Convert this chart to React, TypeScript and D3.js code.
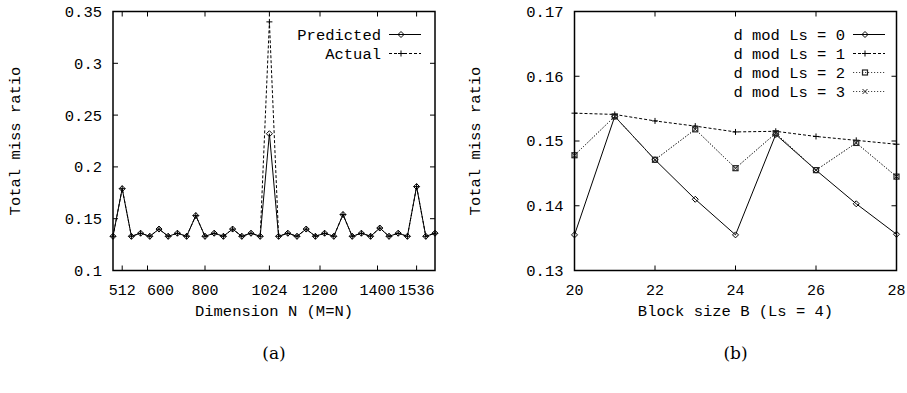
import * as d3 from "d3";

// (a) Dimension N sweep, N = 480..1600 step 32
const dimN = [
  480, 512, 544, 576, 608, 640, 672, 704, 736, 768, 800, 832, 864, 896, 928, 960, 992, 1024,
  1056, 1088, 1120, 1152, 1184, 1216, 1248, 1280, 1312, 1344, 1376, 1408, 1440, 1472, 1504,
  1536, 1568, 1600,
];
const predicted = [
  0.133, 0.179, 0.133, 0.136, 0.133, 0.14, 0.133, 0.136, 0.133, 0.153, 0.133, 0.136, 0.133,
  0.14, 0.133, 0.136, 0.133, 0.232, 0.133, 0.136, 0.133, 0.14, 0.133, 0.136, 0.133, 0.154,
  0.133, 0.136, 0.133, 0.141, 0.133, 0.136, 0.133, 0.181, 0.133, 0.136,
];
const actual = [
  0.133, 0.179, 0.133, 0.136, 0.133, 0.14, 0.133, 0.136, 0.133, 0.153, 0.133, 0.136, 0.133,
  0.14, 0.133, 0.136, 0.133, 0.34, 0.133, 0.136, 0.133, 0.14, 0.133, 0.136, 0.133, 0.154,
  0.133, 0.136, 0.133, 0.141, 0.133, 0.136, 0.133, 0.181, 0.133, 0.136,
];
const xTicksA = [512, 600, 800, 1024, 1200, 1400, 1536];
const yTicksA = [0.1, 0.15, 0.2, 0.25, 0.3, 0.35];

// (b) Block size sweep
const blockB = [20, 21, 22, 23, 24, 25, 26, 27, 28];
const mod0 = [0.1355, 0.1538, 0.1471, 0.141, 0.1355, 0.151, 0.1455, 0.1403, 0.1356];
const mod1 = [0.1543, 0.1541, 0.1531, 0.1523, 0.1514, 0.1515, 0.1507, 0.1501, 0.1495];
const mod2 = [0.1478, 0.1538, 0.1471, 0.1518, 0.1458, 0.1512, 0.1455, 0.1497, 0.1445];
const mod3 = [0.1478, 0.1538, 0.1471, 0.1518, 0.1458, 0.1512, 0.1455, 0.1497, 0.1445];
const xTicksB = [20, 22, 24, 26, 28];
const yTicksB = [0.13, 0.14, 0.15, 0.16, 0.17];

const FONT = "'Liberation Mono', 'Courier New', monospace";
const FS = 15.5;
const TICK = 5;

type MarkerKind = "diamond" | "plus" | "box" | "cross";

function Marker({ kind, x, y }: { kind: MarkerKind; x: number; y: number }) {
  if (kind === "diamond")
    return (
      <path
        d={`M${x},${y - 3}L${x + 3},${y}L${x},${y + 3}L${x - 3},${y}Z`}
        fill="none"
        stroke="#000"
        strokeWidth={1}
      />
    );
  if (kind === "plus")
    return (
      <path d={`M${x - 3},${y}H${x + 3}M${x},${y - 3}V${y + 3}`} stroke="#000" strokeWidth={1} />
    );
  if (kind === "box")
    return (
      <rect x={x - 2.5} y={y - 2.5} width={5} height={5} fill="none" stroke="#222" strokeWidth={1.2} />
    );
  return (
    <path
      d={`M${x - 2.5},${y - 2.5}L${x + 2.5},${y + 2.5}M${x - 2.5},${y + 2.5}L${x + 2.5},${y - 2.5}`}
      stroke="#222"
      strokeWidth={1}
    />
  );
}

interface Series {
  label: string;
  values: number[];
  dash?: string;
  color: string;
  marker: MarkerKind;
}

interface PanelProps {
  xs: number[];
  series: Series[];
  xDomain: [number, number];
  yDomain: [number, number];
  xRange: [number, number];
  yRange: [number, number];
  xTicks: number[];
  yTicks: number[];
  yFmt: (v: number) => string;
  xLabel: string;
  caption: string;
  yTitleX: number;
  legendRight: number;
  labelShift?: Record<number, number>;
}

function Panel(p: PanelProps) {
  const x = d3.scaleLinear().domain(p.xDomain).range(p.xRange);
  const y = d3.scaleLinear().domain(p.yDomain).range(p.yRange);
  const [x0, x1] = p.xRange;
  const [y0, y1] = p.yRange; // y0 bottom, y1 top
  const cx = (x0 + x1) / 2;
  const line = d3
    .line<number>()
    .x((_, i) => x(p.xs[i]))
    .y((d) => y(d));

  return (
    <g fontFamily={FONT} fontSize={FS} fill="#000">
      {/* ticks, mirrored on all sides */}
      {p.yTicks.map((t) => (
        <g key={"y" + t}>
          <line x1={x0} x2={x0 + TICK} y1={y(t)} y2={y(t)} stroke="#000" />
          <line x1={x1} x2={x1 - TICK} y1={y(t)} y2={y(t)} stroke="#000" />
          <text x={x0 - 11} y={y(t)} dy="0.35em" textAnchor="end">
            {p.yFmt(t)}
          </text>
        </g>
      ))}
      {p.xTicks.map((t) => (
        <g key={"x" + t}>
          <line x1={x(t)} x2={x(t)} y1={y0} y2={y0 - TICK} stroke="#000" />
          <line x1={x(t)} x2={x(t)} y1={y1} y2={y1 + TICK} stroke="#000" />
          <text
            x={x(t) + (p.labelShift?.[t] ?? 0)}
            y={y0 + 24}
            textAnchor="middle"
            fontSize={15}
          >
            {t}
          </text>
        </g>
      ))}

      {/* data */}
      {p.series.map((s) => (
        <g key={s.label}>
          <path
            d={line(s.values) ?? ""}
            fill="none"
            stroke={s.color}
            strokeWidth={1}
            strokeDasharray={s.dash}
          />
          {s.values.map((v, i) => (
            <Marker key={i} kind={s.marker} x={x(p.xs[i])} y={y(v)} />
          ))}
        </g>
      ))}

      {/* legend */}
      {p.series.map((s, i) => {
        const ly = y1 + 23 + i * 19;
        const lx = p.legendRight;
        return (
          <g key={"lg" + i}>
            <text x={lx} y={ly} dy="0.35em" textAnchor="end">
              {s.label}
            </text>
            <line
              x1={lx + 8}
              x2={lx + 40}
              y1={ly}
              y2={ly}
              stroke={s.color}
              strokeDasharray={s.dash}
            />
            <Marker kind={s.marker} x={lx + 20} y={ly} />
          </g>
        );
      })}

      {/* frame */}
      <rect
        x={x0}
        y={y1}
        width={x1 - x0}
        height={y0 - y1}
        fill="none"
        stroke="#000"
        strokeWidth={1.5}
      />

      <text x={cx} y={y0 + 45} textAnchor="middle">
        {p.xLabel}
      </text>
      <text
        transform={`translate(${p.yTitleX},${(y0 + y1) / 2}) rotate(-90)`}
        textAnchor="middle"
        dy="0.35em"
      >
        Total miss ratio
      </text>
      <text
        x={cx}
        y={359}
        textAnchor="middle"
        fontFamily="'DejaVu Serif', 'Liberation Serif', serif"
        fontSize={17}
      >
        {p.caption}
      </text>
    </g>
  );
}

export default function App() {
  const seriesA: Series[] = [
    { label: "Predicted", values: predicted, color: "#000", marker: "diamond" },
    { label: "Actual", values: actual, color: "#000", marker: "plus", dash: "3,2" },
  ];
  const seriesB: Series[] = [
    { label: "d mod Ls = 0", values: mod0, color: "#000", marker: "diamond" },
    { label: "d mod Ls = 1", values: mod1, color: "#000", marker: "plus", dash: "3,2" },
    { label: "d mod Ls = 2", values: mod2, color: "#444", marker: "box", dash: "1.2,1.8" },
    { label: "d mod Ls = 3", values: mod3, color: "#444", marker: "cross", dash: "1.2,1.8" },
  ];
  return (
    <svg
      width={907}
      height={393}
      style={{ position: "absolute", left: 0, top: 0, background: "#fff" }}
    >
      <Panel
        xs={dimN}
        series={seriesA}
        xDomain={[480, 1600]}
        yDomain={[0.1, 0.35]}
        xRange={[113, 435]}
        yRange={[270.5, 11.5]}
        xTicks={xTicksA}
        yTicks={yTicksA}
        yFmt={(v) => String(+v.toFixed(2))}
        xLabel="Dimension N (M=N)"
        caption="(a)"
        yTitleX={15}
        legendRight={381}
        labelShift={{ 600: 13 }}
      />
      <Panel
        xs={blockB}
        series={seriesB}
        xDomain={[20, 28]}
        yDomain={[0.13, 0.17]}
        xRange={[574.5, 896.5]}
        yRange={[270.5, 11.5]}
        xTicks={xTicksB}
        yTicks={yTicksB}
        yFmt={(v) => v.toFixed(2)}
        xLabel="Block size B (Ls = 4)"
        caption="(b)"
        yTitleX={475}
        legendRight={845}
      />
    </svg>
  );
}
